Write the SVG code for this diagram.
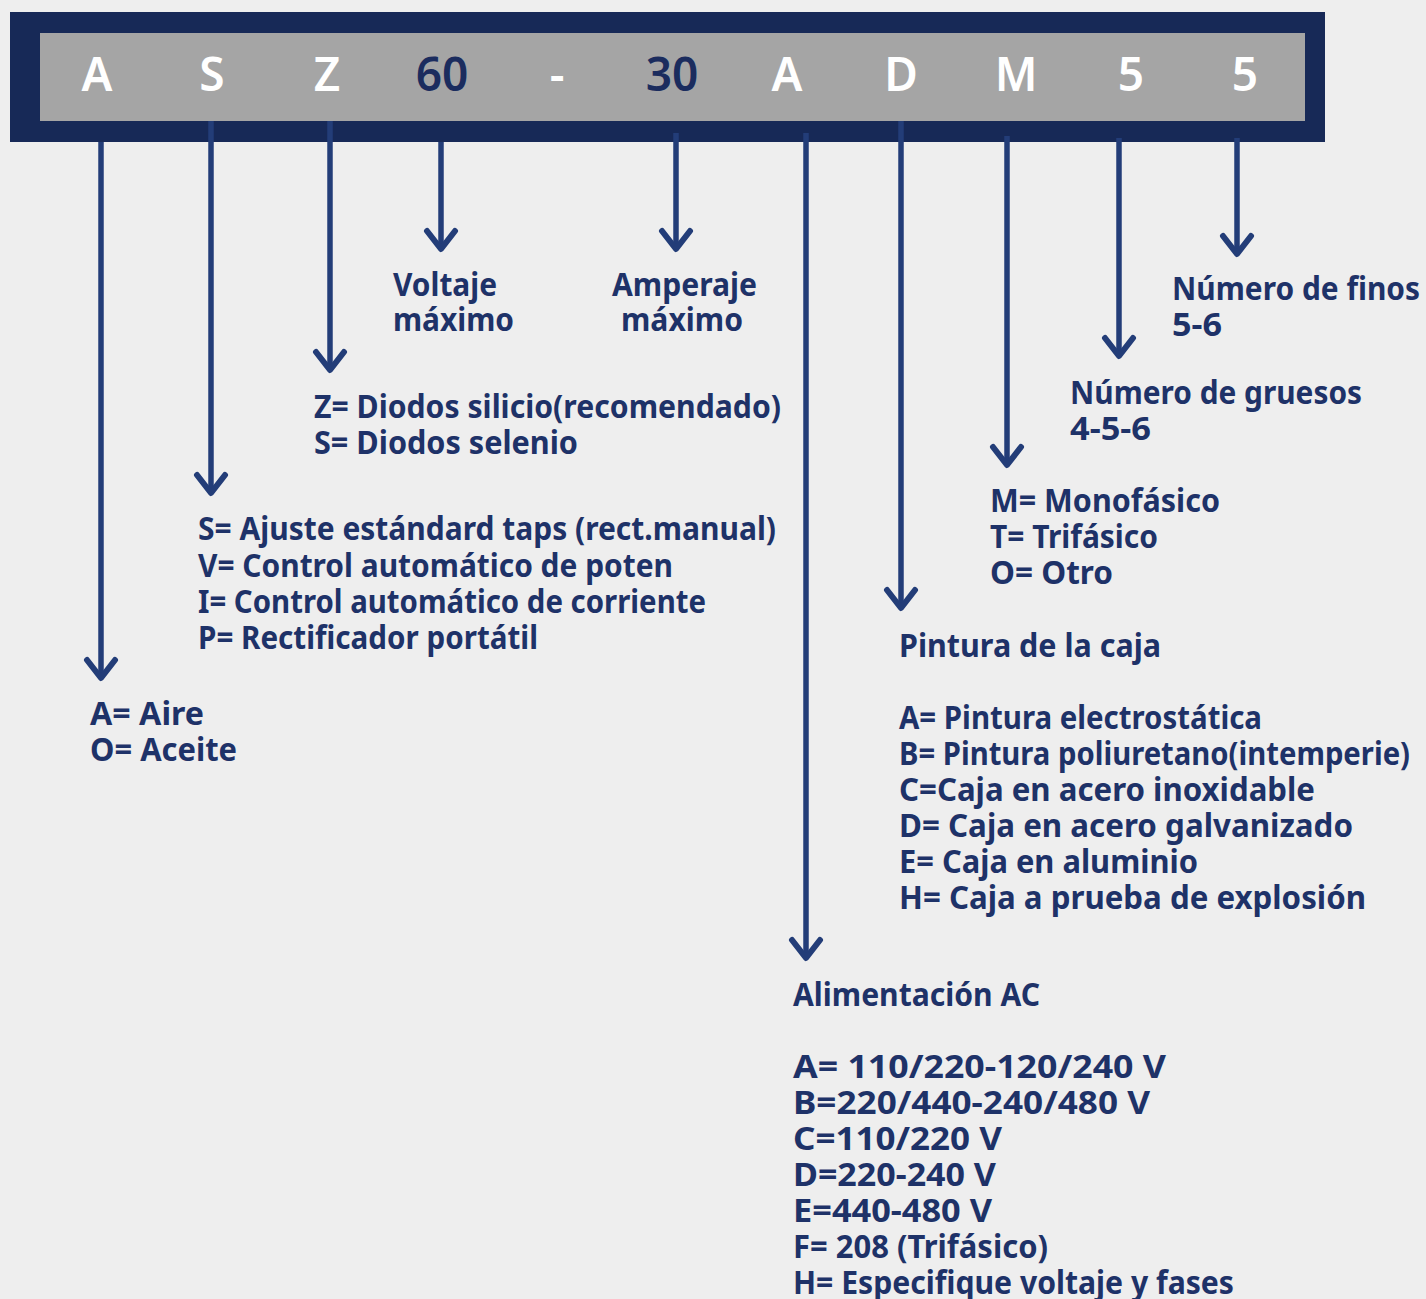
<svg xmlns="http://www.w3.org/2000/svg" width="1426" height="1299" viewBox="0 0 1426 1299">
<defs>
<style>
.hdr{font-family:"Noto Sans","DejaVu Sans",sans-serif;font-weight:600;font-size:46px;text-anchor:middle;fill:#ffffff}
.hdr.dk{fill:#1b2c5e}
.t{font-family:"Noto Sans","DejaVu Sans",sans-serif;font-weight:700;font-size:33px;fill:#1e3268}
.ln{stroke:#233d78;stroke-width:5.5;fill:none}
.ah{stroke:#233d78;stroke-width:6;fill:none;stroke-linecap:round;stroke-linejoin:round}
</style>
</defs>
<rect x="0" y="0" width="1426" height="1299" fill="#eeeeee"/>
<g id="header">
<rect x="10" y="12" width="1315" height="130" fill="#172957"/>
<rect x="40" y="33" width="1265" height="88" fill="#a5a5a5"/>
<text class="hdr" x="97" y="91">A</text>
<text class="hdr" x="212" y="91">S</text>
<text class="hdr" x="327" y="91">Z</text>
<text class="hdr dk" x="442" y="91">60</text>
<text class="hdr" x="557" y="91">-</text>
<text class="hdr dk" x="672" y="91">30</text>
<text class="hdr" x="787" y="91">A</text>
<text class="hdr" x="901" y="91">D</text>
<text class="hdr" x="1016" y="91">M</text>
<text class="hdr" x="1131" y="91">5</text>
<text class="hdr" x="1245" y="91">5</text>
</g>
<g id="connectors">
<line class="ln" x1="101" y1="142" x2="101" y2="676"/>
<path class="ah" d="M87,660 L101,678 L115,660"/>
<line class="ln" x1="211" y1="121" x2="211" y2="491"/>
<path class="ah" d="M197,475 L211,493 L225,475"/>
<line class="ln" x1="330" y1="121" x2="330" y2="368"/>
<path class="ah" d="M316,352 L330,370 L344,352"/>
<line class="ln" x1="441" y1="142" x2="441" y2="248"/>
<path class="ah" d="M427,231 L441,249 L455,231"/>
<line class="ln" x1="676" y1="133" x2="676" y2="248"/>
<path class="ah" d="M662,231 L676,249 L690,231"/>
<line class="ln" x1="806" y1="133" x2="806" y2="956"/>
<path class="ah" d="M792,940 L806,958 L820,940"/>
<line class="ln" x1="901" y1="121" x2="901" y2="606"/>
<path class="ah" d="M887,590 L901,608 L915,590"/>
<line class="ln" x1="1007" y1="136" x2="1007" y2="463"/>
<path class="ah" d="M993,447 L1007,465 L1021,447"/>
<line class="ln" x1="1119" y1="138" x2="1119" y2="354"/>
<path class="ah" d="M1105,338 L1119,356 L1133,338"/>
<line class="ln" x1="1237" y1="138" x2="1237" y2="252"/>
<path class="ah" d="M1223,236 L1237,254 L1251,236"/>
</g>
<g id="node-voltaje">
<text class="t" x="393" y="296" textLength="104" lengthAdjust="spacingAndGlyphs">Voltaje</text>
<text class="t" x="393" y="331" textLength="121" lengthAdjust="spacingAndGlyphs">máximo</text>
</g>
<g id="node-amperaje">
<text class="t" x="612" y="296" textLength="145" lengthAdjust="spacingAndGlyphs">Amperaje</text>
<text class="t" x="621" y="331" textLength="122" lengthAdjust="spacingAndGlyphs">máximo</text>
</g>
<g id="node-finos">
<text class="t" x="1172" y="300" textLength="248" lengthAdjust="spacingAndGlyphs">Número de finos</text>
<text class="t" x="1172" y="336" textLength="50" lengthAdjust="spacingAndGlyphs">5-6</text>
</g>
<g id="node-diodos">
<text class="t" x="314" y="418" textLength="467" lengthAdjust="spacingAndGlyphs">Z= Diodos silicio(recomendado)</text>
<text class="t" x="314" y="454" textLength="264" lengthAdjust="spacingAndGlyphs">S= Diodos selenio</text>
</g>
<g id="node-gruesos">
<text class="t" x="1070" y="404" textLength="292" lengthAdjust="spacingAndGlyphs">Número de gruesos</text>
<text class="t" x="1070" y="440" textLength="81" lengthAdjust="spacingAndGlyphs">4-5-6</text>
</g>
<g id="node-fases">
<text class="t" x="990" y="512" textLength="230" lengthAdjust="spacingAndGlyphs">M= Monofásico</text>
<text class="t" x="990" y="548" textLength="168" lengthAdjust="spacingAndGlyphs">T= Trifásico</text>
<text class="t" x="990" y="584" textLength="123" lengthAdjust="spacingAndGlyphs">O= Otro</text>
</g>
<g id="node-control">
<text class="t" x="198" y="540" textLength="578" lengthAdjust="spacingAndGlyphs">S= Ajuste estándard taps (rect.manual)</text>
<text class="t" x="198" y="577" textLength="475" lengthAdjust="spacingAndGlyphs">V= Control automático de poten</text>
<text class="t" x="198" y="613" textLength="508" lengthAdjust="spacingAndGlyphs">I= Control automático de corriente</text>
<text class="t" x="198" y="649" textLength="340" lengthAdjust="spacingAndGlyphs">P= Rectificador portátil</text>
</g>
<g id="node-pintura">
<text class="t" x="899" y="657" textLength="262" lengthAdjust="spacingAndGlyphs">Pintura de la caja</text>
<text class="t" x="899" y="729" textLength="363" lengthAdjust="spacingAndGlyphs">A= Pintura electrostática</text>
<text class="t" x="899" y="765" textLength="511" lengthAdjust="spacingAndGlyphs">B= Pintura poliuretano(intemperie)</text>
<text class="t" x="899" y="801" textLength="416" lengthAdjust="spacingAndGlyphs">C=Caja en acero inoxidable</text>
<text class="t" x="899" y="837" textLength="454" lengthAdjust="spacingAndGlyphs">D= Caja en acero galvanizado</text>
<text class="t" x="899" y="873" textLength="299" lengthAdjust="spacingAndGlyphs">E= Caja en aluminio</text>
<text class="t" x="899" y="909" textLength="467" lengthAdjust="spacingAndGlyphs">H= Caja a prueba de explosión</text>
</g>
<g id="node-enfriamiento">
<text class="t" x="90" y="725" textLength="114" lengthAdjust="spacingAndGlyphs">A= Aire</text>
<text class="t" x="90" y="761" textLength="147" lengthAdjust="spacingAndGlyphs">O= Aceite</text>
</g>
<g id="node-alimentacion">
<text class="t" x="793" y="1006" textLength="247" lengthAdjust="spacingAndGlyphs">Alimentación AC</text>
<text class="t" x="793" y="1078" textLength="373" lengthAdjust="spacingAndGlyphs">A= 110/220-120/240 V</text>
<text class="t" x="793" y="1114" textLength="357" lengthAdjust="spacingAndGlyphs">B=220/440-240/480 V</text>
<text class="t" x="793" y="1150" textLength="209" lengthAdjust="spacingAndGlyphs">C=110/220 V</text>
<text class="t" x="793" y="1186" textLength="203" lengthAdjust="spacingAndGlyphs">D=220-240 V</text>
<text class="t" x="793" y="1222" textLength="199" lengthAdjust="spacingAndGlyphs">E=440-480 V</text>
<text class="t" x="793" y="1258" textLength="255" lengthAdjust="spacingAndGlyphs">F= 208 (Trifásico)</text>
<text class="t" x="793" y="1294" textLength="441" lengthAdjust="spacingAndGlyphs">H= Especifique voltaje y fases</text>
</g>
</svg>
